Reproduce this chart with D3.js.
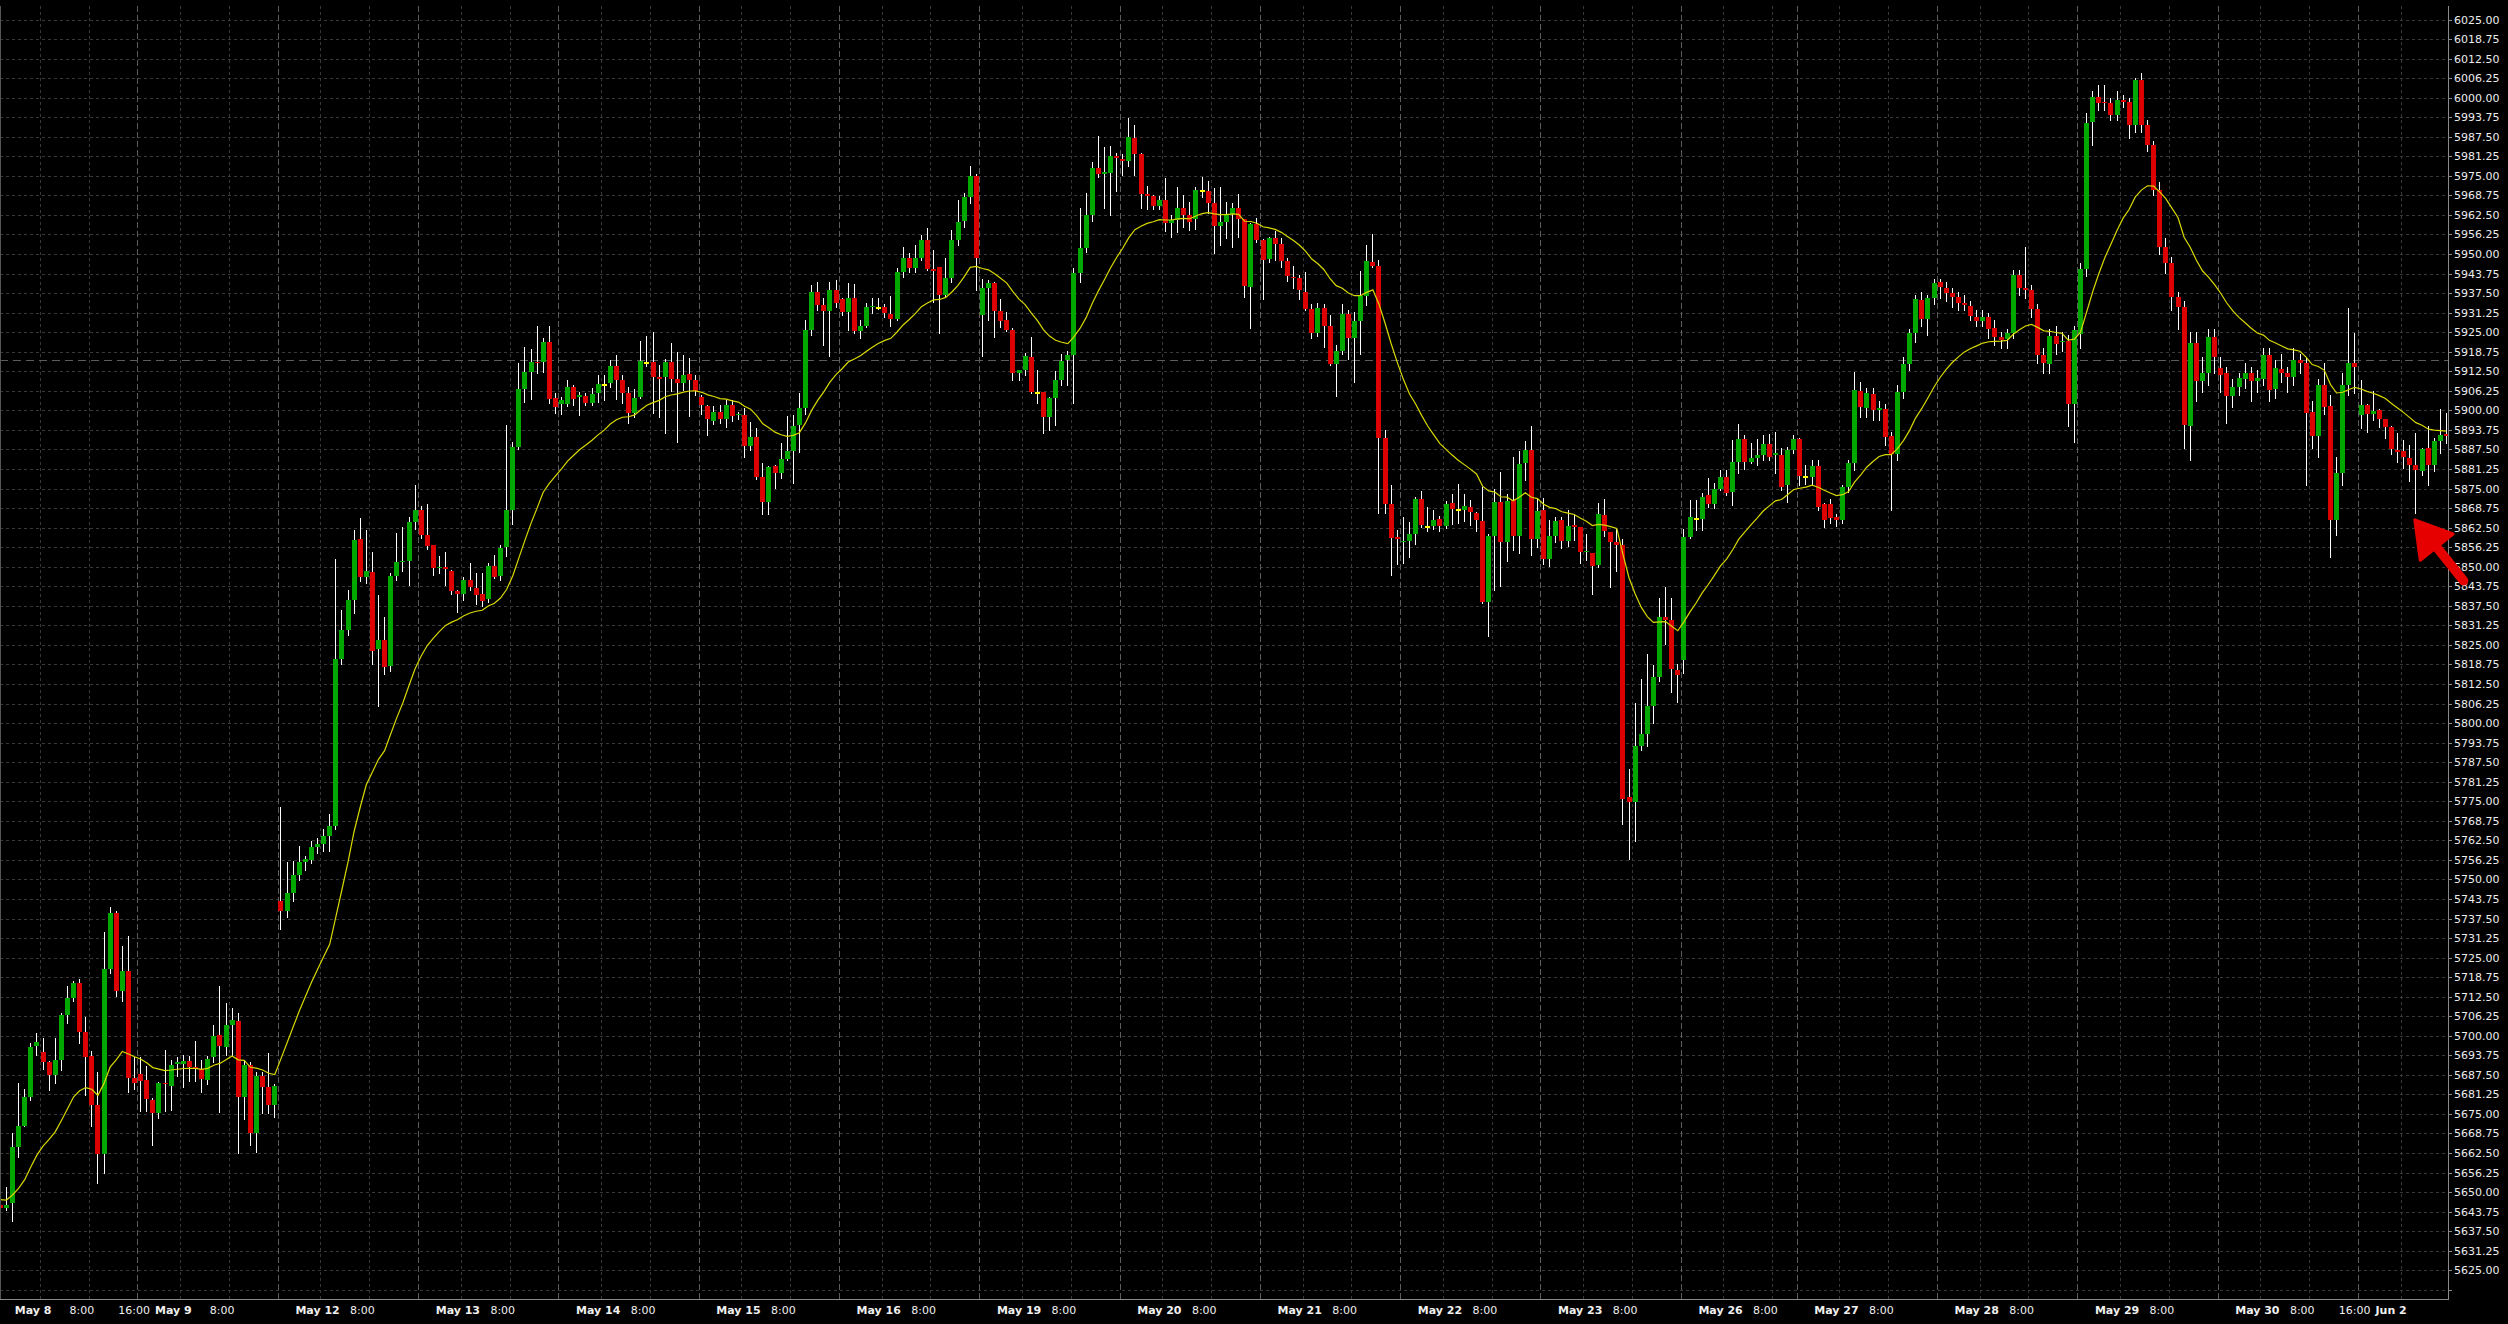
<!DOCTYPE html>
<html><head><meta charset="utf-8">
<script src="https://cdn.jsdelivr.net/npm/d3@7"></script>
<style>html,body{margin:0;padding:0;background:#000;overflow:hidden}svg{display:block}</style>
</head><body><svg id="c" width="2508" height="1324"></svg>
<script>
// ---- DATA (hourly bars, one row per trading day) ----
const dayNames = ["May 8","May 9","May 12","May 13","May 14","May 15","May 16","May 19","May 20","May 21","May 22","May 23","May 26","May 27","May 28","May 29","May 30","Jun 2"];
const dayStart = [0,23,46,69,92,115,138,161,184,207,230,253,276,295,318,341,364,387];
const timeLabelBar = [7,15,30,53,76,99,122,145,168,191,214,237,260,283,302,325,348,371,379];
const timeLabelText = ["8:00","16:00","8:00","8:00","8:00","8:00","8:00","8:00","8:00","8:00","8:00","8:00","8:00","8:00","8:00","8:00","8:00","8:00","16:00"];
const yTickFirst = 5625, yTickLast = 6025, yTickStep = 6.25;
const hLineLevels = [5916];
const maPeriod = 20, maSeed = 5647.9;

const opens = [
5646,5645,5646.4,5664.5,5671.2,5680.5,5696.8,5694.7,5691.7,5687.5,5692.3,5706.6,5712,5717,5701.3,5693.5,5677.9,5662.2,5721.2,5739.2,5714.3,5720.7,5686.6,
5687.8,5685.9,5679.5,5675.2,5685,5684,5690.9,5690.9,5691.8,5689.9,5689.3,5685.9,5693.1,5700.2,5696.5,5703.6,5704.7,5680.5,5690.7,5668.8,5687.1,5683.5,5677.9,
5743.1,5740,5745.8,5751.3,5755.7,5756.3,5760.3,5761.2,5763.9,5767,5820.4,5829.9,5839.3,5858.9,5846.7,5848.2,5823.6,5826.7,5818.1,5847.1,5851.4,5851.9,5864.4,
5868.1,5860.1,5856.9,5849.5,5850,5848.6,5842.2,5841.2,5845.8,5843.1,5841.3,5839.6,5850.2,5846.9,5856.4,5868.3,5888.4,5906.8,5912.4,5915.6,5915.6,5922,5903.8,
5902,5902,5907.4,5904.4,5904.6,5902.5,5905.5,5908.1,5908.9,5914.2,5909.7,5905.5,5899.3,5904.4,5915.3,5915.6,5910.6,5910.6,5915.5,5910,5908.6,5911.5,5909.7,
5904.2,5901.4,5896.7,5899.5,5897.4,5901.7,5898.5,5898.5,5888.7,5891.5,5878.8,5870.8,5882.2,5879.9,5884.4,5887,5895.3,5900.9,5925.7,5938,5933.7,5931.9,5938.5,
5935.5,5931.5,5936,5925.5,5927,5932.9,5932.8,5933,5930.7,5929.3,5944.3,5948.7,5945.6,5948.7,5954.5,5945.2,5945.7,5936.9,5942.3,5954.5,5960.7,5968.1,5975,
5930.5,5939.1,5940.7,5931.9,5928.9,5925.7,5912.1,5912.9,5917.1,5905.6,5905.9,5898,5904.1,5909.7,5916,5917.6,5943.8,5951.8,5962.5,5977.4,5975.5,5976,5981.4,
5980.3,5979.8,5987.1,5982,5969.2,5968.6,5965.2,5967.3,5960,5960.9,5964.8,5962.5,5961.1,5970.3,5970.3,5966.4,5959,5960.2,5962.8,5964.8,5961.1,5939.6,5959.6,
5954.5,5948.5,5955.1,5953.2,5947.8,5942.7,5942.2,5937.7,5932.3,5924.8,5932.6,5927,5914.7,5918.9,5930.9,5923.2,5928.6,5936.7,5947.4,5946.3,5891.2,5869.9,5859.5,
5857.8,5858.3,5860.6,5871.8,5862.7,5862.9,5865.3,5862.9,5870.4,5868.3,5868.3,5869,5867.3,5864.6,5838.8,5859.7,5870.7,5857.9,5871.4,5859.9,5883.1,5887.3,5858.9,
5868,5852.5,5859.7,5865,5858.3,5863.3,5862.6,5854.6,5854.3,5850.5,5866.4,5861,5857.9,5857,5776.2,5774.9,5792.6,5796.4,5805.4,5814.8,5833.9,5833,5817.1,
5820.2,5859.6,5865.4,5865.4,5872.8,5869.9,5875,5878.8,5873.9,5883.6,5891,5883.6,5884.7,5885.6,5889.4,5885.7,5885.7,5876.1,5887.3,
5890.7,5878.8,5878.8,5882.2,5869.9,5869.9,5865.8,5865,5875.4,5883.3,5906.2,5900.7,5905.2,5900,5900.3,5891.8,5885.9,5906,5914.8,5924.6,5935.3,5929.1,5935.8,
5941.2,5939.1,5937.6,5936.2,5934.2,5933.4,5930,5928.7,5930,5926.2,5923.4,5922.7,5924.6,5943.3,5939.1,5938.5,5932.3,5917.7,5914.8,5923.8,5921.9,5922.2,5901.9,
5924.3,5945.2,5992.1,6000.1,5998.6,5998.2,5994.5,5999.3,5998.7,5991.3,6005.7,5991.3,5984.9,5970.5,5952.1,5947.1,5936.1,5933.2,5895.1,5921.5,5909.5,5911.8,5923.6,
5913.4,5911.8,5904.6,5907.6,5909.9,5911.8,5909.5,5910,5917.7,5906.7,5913.1,5911.8,5910.8,5916.1,5915,5899.6,5891.8,5908.1,5901.4,5864.9,5880.1,5908.1,5915,
5898.5,5901.7,5899,5900.1,5897.1,5894.8,5887.3,5887,5884.9,5882.5,5880.7,5887.9,5882.5,5890.1,5892.4
];
const highs = [
5647.5,5651.7,5668.8,5684.8,5682.9,5697.6,5700.8,5699.4,5691.9,5699.4,5707.2,5716,5717.5,5718,5706.1,5695,5688.5,5733.3,5741.1,5739.9,5728.7,5731.9,5693.3,
5693.3,5690.4,5680,5685.3,5695.5,5692.3,5693.3,5693.8,5693.6,5698.3,5692.3,5693.6,5703.4,5715.9,5710.4,5709,5707.4,5692.3,5691.7,5688.5,5688.5,5694.4,5684.6,
5773.3,5755.7,5756,5760.7,5757.6,5762.3,5763.1,5766.2,5770.9,5852.6,5836.1,5842.4,5861.7,5865.5,5861.7,5854.7,5840.9,5833.8,5847.9,5860.8,5862.8,5866,5876.2,
5869.4,5870,5857,5853.4,5854.6,5848.8,5842.4,5846.8,5851.1,5847.9,5848.1,5851.1,5853.8,5856.9,5895.3,5890,5915,5920.4,5919.5,5927,5923,5927.1,5905.7,
5904.4,5909.7,5908.1,5906,5905.5,5907.1,5911.3,5911.3,5916.1,5917.7,5911.3,5907.4,5906.7,5922.3,5923.8,5925.2,5914.5,5916.3,5921.4,5918.8,5917.7,5916.6,5911.3,
5904.9,5901.6,5901.4,5901.7,5903.3,5903.3,5899.6,5900.7,5896.4,5894.3,5883.3,5882.2,5882.4,5889.5,5898.2,5898.5,5905.5,5928.9,5940,5941,5936,5941,5941.7,
5935.8,5940.6,5940.4,5928.9,5934.2,5935.8,5935.8,5934,5936.6,5945.4,5952.4,5950.2,5952.9,5956.1,5958.2,5951.3,5946,5948.6,5957.7,5967.3,5969.6,5978,5975.6,
5941.9,5941.7,5941.2,5935.5,5931.5,5926.5,5913,5918.5,5923.4,5912.9,5906,5904.3,5912.7,5918,5919.1,5945.4,5964.6,5969.4,5979.5,5987.8,5984.3,5984.5,5982.4,
5982,5993.4,5991.3,5982.2,5971.8,5968.8,5968.6,5974.2,5962.5,5971.5,5968.9,5966.7,5971.3,5974.7,5973.5,5971,5971.3,5966.7,5966.2,5969.2,5961.3,5959.8,5961.4,
5954.7,5955.3,5957.5,5955.1,5948.8,5946.1,5943.4,5944.1,5934,5934.2,5934,5930.6,5920.8,5934,5932,5931.3,5944.7,5952.8,5956.4,5948.1,5893.6,5876.1,5861.8,
5866,5864.2,5872.3,5874.1,5869.1,5868.3,5866.3,5871,5873.1,5876.5,5873.1,5871.4,5867.5,5875.4,5860.6,5874.7,5880.4,5873.1,5885.2,5887.1,5890.2,5894.9,5872,
5872,5865,5866,5866,5868,5866.7,5862.8,5860.6,5854.5,5870.4,5871.8,5861.2,5862,5858.9,5785.2,5806.4,5814.2,5822.2,5818.5,5840,5843.5,5840,5818.9,
5862,5871.3,5871.3,5873.5,5878.3,5876.7,5880.9,5880.9,5890.5,5895.6,5892.1,5889.5,5890.7,5892.1,5892.5,5893.2,5887.9,5888.4,5892.1,
5891.1,5882.5,5884.1,5884,5870.5,5871.6,5867,5876,5884,5912.4,5909,5907,5907,5903,5902,5893,5908,5917,5926,5937,5938,5937,5942,
5942,5941,5939,5938,5937,5935,5932,5932,5931,5929,5925,5926,5945,5945,5952.4,5940,5934,5920,5926,5927,5925,5924,5927,
5947,5995,6002,6004,6004,6000,6002,6001,6000,6006.3,6008,5993,5986,5973,5955,5949,5938,5935,5925,5925,5917,5926,5926,
5917,5914,5910,5912,5915,5914,5913,5920,5920,5916,5918,5914,5920,5918,5917,5903,5910,5915,5905,5885,5912,5932.6,5924.8,
5909.7,5902,5906.2,5900.3,5897.3,5895,5892.9,5890.5,5888.9,5892.7,5887.9,5895,5891.1,5900.3,5899.1
];
const lows = [
5644,5644.3,5640.9,5661.3,5671,5679.5,5693.9,5689.4,5682.5,5685,5689,5704.2,5711,5697.8,5681,5671,5652.8,5656.2,5720,5712.7,5711.1,5682.1,5683,
5676,5676,5665.1,5673.6,5676,5676.2,5687,5683.7,5685.6,5685.6,5682.1,5684.6,5691.7,5675.7,5693.8,5694,5662.6,5673.3,5665.1,5662.9,5675.4,5675.4,5673.9,
5734,5738,5743.1,5749.7,5752.9,5755.2,5758.4,5759.2,5759.2,5766.2,5818.8,5828.3,5835.3,5845.5,5844.8,5818.8,5805.5,5815.7,5816.5,5845.6,5848.7,5844,5862,
5859.1,5855.6,5847.4,5848.1,5844.2,5841.3,5835.6,5839.4,5842.6,5838.1,5837.4,5838.8,5846.3,5845.8,5853.4,5863.6,5887.5,5902.8,5903.5,5912.1,5912.4,5902.3,5899.3,
5899,5901.4,5901.7,5898.5,5901.7,5901.7,5902.8,5903.3,5907.6,5903.5,5902.5,5896.1,5897.8,5903.9,5914.2,5899.3,5898,5892.7,5906.3,5890,5906.5,5898.2,5904.9,
5899,5892.1,5895.6,5895.9,5894.6,5896.7,5897.1,5885.2,5887.3,5877.9,5866.9,5867,5875.1,5878.3,5884.1,5876.9,5886.8,5899,5924,5932,5920.9,5917.4,5933.2,
5930.5,5925.7,5924.6,5923,5926.8,5931,5932.3,5930,5927,5928.9,5942.8,5944.4,5944.4,5948.1,5944.9,5934.8,5924.6,5936.4,5941.2,5952.9,5958.8,5966.2,5938.5,
5917.4,5928.9,5923.4,5926.8,5925.5,5909.7,5909.7,5911.3,5905.5,5902.5,5892.7,5893.7,5895.3,5908.1,5908.1,5902.5,5941.2,5950.8,5960.7,5974.7,5964.6,5962.5,5970.3,
5975.3,5978.2,5975.3,5964.6,5964.5,5964.3,5964.3,5957.5,5955.3,5957.2,5958.8,5957.7,5957.9,5968.3,5963,5950.4,5952.9,5955,5952.4,5955.3,5936.4,5926.2,5954,
5935.6,5947.4,5948.1,5946,5941.4,5939.1,5935.6,5932.1,5923.2,5923.9,5920.2,5914.4,5904.6,5918.1,5916.5,5909.1,5918.1,5933.7,5946,5867.3,5867.3,5847.5,5850.8,
5851.2,5853.2,5857.2,5862.6,5861.3,5862,5861.5,5862.3,5863.7,5864,5864.6,5863.3,5861.3,5838.5,5828,5842.7,5843.8,5851.8,5855.2,5854.5,5877.7,5853.9,5856.2,
5850.8,5850.2,5857.9,5855.9,5856.6,5858.6,5851.2,5852.1,5841.4,5849.8,5859.9,5843.4,5848.5,5767.7,5756.6,5762.4,5791.3,5792.6,5800,5813.5,5825.2,5809.9,5806.8,
5816,5859.1,5861.7,5861.7,5869.2,5868.7,5874.5,5872.9,5869.7,5879.9,5881.4,5883.1,5882.5,5884.1,5884.1,5879.9,5874.5,5870.8,5886.3,
5876.1,5876.5,5876,5868.1,5862.6,5864.1,5863,5864,5874,5881,5898,5898,5897,5897,5889,5868.1,5884,5904,5913,5922,5927,5924,5934,
5936,5935,5933,5932,5932,5929,5927,5927,5923,5921,5920,5920,5923,5937,5936,5930,5915,5912,5912,5918,5919,5895,5890,
5920,5943,5985,5996,5996,5993,5993,5997,5987,5989,5989,5983,5969,5950,5944,5932,5926,5888,5884,5903,5906,5908,5912,
5906,5896,5901,5905,5907,5903,5906,5908,5903,5904,5909,5906,5908,5912,5876,5888,5885,5899,5853.2,5860,5876,5905,5905.4,
5894.3,5893.2,5896.9,5894.8,5891.1,5886,5883.6,5881.5,5877.5,5867.3,5879.3,5876.1,5880.7,5886.5,5889.5
];
const closes = [
5645,5646,5664.5,5671.2,5680.4,5696.5,5698,5691.7,5687.5,5692.3,5706.6,5712,5717,5701.3,5693.3,5677.9,5662.2,5721.2,5739.2,5714.3,5720.7,5686.6,5685,
5685.6,5679.7,5675.4,5684.8,5684.5,5690.7,5691.6,5691.8,5690.1,5689.4,5686.2,5692.6,5700,5696.8,5703.4,5705.1,5680.5,5690.7,5668.8,5687.1,5683.5,5677.9,5684,
5740,5745.8,5751.3,5755.7,5756.5,5760.3,5761.2,5763.9,5767,5820.4,5829.9,5839.3,5858.5,5846.8,5848.7,5823.1,5826.7,5817.8,5847.1,5851.4,5851.9,5864.4,5868.3,
5860.1,5856.6,5849.5,5850,5849.2,5842.3,5841.2,5845.8,5843.4,5841,5839.1,5850.2,5846.8,5856.1,5868.3,5888.4,5906.8,5912.4,5915.6,5915,5922,5903.6,5901,
5903.3,5907.4,5903.6,5904.8,5902.5,5905.2,5908.4,5908.1,5914.2,5909.7,5905.7,5899.3,5904.1,5915.8,5915.3,5910.6,5910.1,5915.5,5910,5908.6,5911.2,5909.7,5906.3,
5901.7,5897.1,5899.6,5897.4,5901.7,5898.2,5898.9,5888.7,5891.5,5878.8,5870.8,5882,5879.9,5884.3,5887,5895,5900.9,5925.7,5938,5933.6,5931.9,5938.5,5934.2,
5931.3,5936,5925.5,5927,5933,5933.4,5932.8,5931,5929.2,5944.3,5948.7,5945.6,5948.7,5954.5,5945.3,5944.7,5936.9,5942.3,5954.5,5960.2,5968.1,5975,5948.8,
5939.1,5940.7,5931.9,5928.7,5925.7,5912.1,5912.9,5917.4,5905.9,5905.6,5898,5904.1,5909.7,5915.7,5917.6,5943.8,5951.8,5962.4,5977.4,5975.6,5976.2,5981.4,5980.7,
5979.8,5987.5,5982,5969.2,5968.6,5965.2,5967.3,5960,5960.9,5964.8,5962.5,5960.4,5970.5,5970.3,5966.4,5959,5960.2,5962.8,5964.8,5961.1,5939.8,5959.6,5954.5,
5948.1,5955.1,5953.2,5947.8,5943.1,5942.2,5938.4,5932.3,5924.8,5932.6,5927,5914.7,5918.9,5930.9,5923.2,5928.6,5936.7,5947.8,5946.3,5891.2,5869.9,5859.3,5858.9,
5858.3,5860.6,5871.8,5863.3,5862.7,5864.9,5862.9,5870,5868.5,5868.3,5869.4,5867.6,5865,5838.8,5859.7,5870.7,5857.9,5871,5859.9,5882.8,5887.3,5858.9,5867.7,
5852.5,5859.7,5864.6,5858.3,5862.9,5862.6,5854.6,5854.9,5850.2,5866.9,5861.3,5857.9,5857,5775.8,5774.9,5792.6,5796.4,5805.4,5814.8,5833.9,5833,5817.3,5815.5,
5859.5,5865.8,5865.4,5872.2,5869.9,5875,5878.8,5873.5,5883.6,5891,5883.6,5884.7,5885.8,5889.4,5885,5886.4,5875.6,5887.3,5890.7,
5879,5878.8,5882.2,5869.2,5865.1,5865.5,5864.9,5875.6,5883.3,5906.5,5901.2,5905.5,5900.1,5900.7,5891.6,5885.9,5906,5914.8,5924.6,5935.7,5929.1,5935.8,5940.6,
5939.6,5937.6,5936.2,5934.4,5933.7,5930.2,5928.7,5930,5925.9,5923.4,5922.5,5924.6,5943.3,5939.1,5938.5,5932.3,5917.7,5915,5923.8,5921.2,5922.2,5901.9,5925.7,
5945.2,5991.8,6000.1,5998.4,5998.2,5994.5,5999.3,5998.7,5991.3,6005.7,5991.3,5984.9,5970.5,5952.4,5947.1,5936.1,5933.2,5895.3,5921.7,5909.5,5911.8,5923.6,5917.2,
5911.3,5904.7,5907.6,5910.3,5911.8,5909.5,5910.2,5917.7,5906.5,5913.4,5911.8,5910.8,5916.1,5915,5899.3,5891.8,5908.1,5901.2,5864.9,5880.1,5908.1,5915,5914,
5901.7,5899,5899.8,5897.4,5894.8,5887.5,5886.8,5885.2,5882.5,5880.9,5887.5,5882.5,5890.2,5892.1,5891.9
];
// annotation arrow (bar index, price)
const arrowTip = [395.9, 5865], arrowTail = [403.9, 5845.5];

// ---- CHART ----
const W = 2508, H = 1324;
const plotLeft = 0, plotRight = 2448, plotTop = 6, plotBottom = 1299;
const n = closes.length;
const bars = d3.range(n).map(i => ({i, o: opens[i], h: highs[i], l: lows[i], c: closes[i]}));

const x = d3.scaleLinear().domain([0, 401]).range([-0.2, 2445.9]);
const y = d3.scaleLinear().domain([yTickFirst, yTickLast]).range([1270.3, 19.5]);

const svg = d3.select("#c");
svg.append("rect").attr("width", W).attr("height", H).attr("fill", "#000");
const defs = svg.append("defs");
defs.append("clipPath").attr("id", "plot").append("rect")
  .attr("x", plotLeft).attr("y", plotTop).attr("width", plotRight - plotLeft).attr("height", plotBottom - plotTop);

const grid = svg.append("g").attr("shape-rendering", "crispEdges").attr("clip-path", "url(#plot)");
// horizontal grid
const gridLevels = d3.range(0, 66).map(k => yTickFirst - yTickStep + k * yTickStep);
grid.selectAll("line.hg").data(gridLevels).join("line")
  .attr("x1", plotLeft).attr("x2", plotRight)
  .attr("y1", d => Math.round(y(d)) + 0.5).attr("y2", d => Math.round(y(d)) + 0.5)
  .attr("stroke", "#383838").attr("stroke-dasharray", "3,3");
// vertical grid at 8:00 and 16:00 of each day
const vg = [];
dayStart.forEach((s, k) => {
  const end = k + 1 < dayStart.length ? dayStart[k + 1] : n;
  [7, 15].forEach(o => { if (s + o < end) vg.push(s + o); });
});
grid.selectAll("line.vg").data(vg).join("line")
  .attr("x1", d => Math.round(x(d) - 2.7) + 0.5).attr("x2", d => Math.round(x(d) - 2.7) + 0.5)
  .attr("y1", plotTop).attr("y2", plotBottom)
  .attr("stroke", "#383838").attr("stroke-dasharray", "3,3");
// day separators
grid.selectAll("line.sep").data(dayStart.slice(1)).join("line")
  .attr("x1", d => Math.round(x(d) - 2.7) + 0.5).attr("x2", d => Math.round(x(d) - 2.7) + 0.5)
  .attr("y1", plotTop).attr("y2", plotBottom)
  .attr("stroke", "#5c5c5c").attr("stroke-dasharray", "6,3");
// horizontal dashed level line
grid.selectAll("line.hl").data(hLineLevels).join("line")
  .attr("x1", plotLeft).attr("x2", plotRight)
  .attr("y1", d => Math.round(y(d)) + 0.5).attr("y2", d => Math.round(y(d)) + 0.5)
  .attr("stroke", "#5c5c5c").attr("stroke-dasharray", "8,5");

// candles
const cg = svg.append("g").attr("clip-path", "url(#plot)").attr("shape-rendering", "crispEdges");
const cx = d => Math.round(x(d.i));
cg.selectAll("line.wick").data(bars).join("line")
  .attr("x1", d => cx(d) + 0.5).attr("x2", d => cx(d) + 0.5)
  .attr("y1", d => Math.round(y(d.h))).attr("y2", d => Math.round(y(d.l)) + 1)
  .attr("stroke", "#ffffff").attr("stroke-width", 1);
cg.selectAll("rect.body").data(bars.filter(d => d.o !== d.c)).join("rect")
  .attr("x", d => cx(d) - 2).attr("width", 5)
  .attr("y", d => Math.round(y(Math.max(d.o, d.c))))
  .attr("height", d => Math.max(1, Math.round(y(Math.min(d.o, d.c))) - Math.round(y(Math.max(d.o, d.c)))))
  .attr("fill", d => d.c > d.o ? "#00a800" : "#dc0000");
cg.selectAll("rect.doji").data(bars.filter(d => d.o === d.c)).join("rect")
  .attr("x", d => cx(d) - 2).attr("width", 5)
  .attr("y", d => Math.round(y(d.c)) - 1).attr("height", 2)
  .attr("fill", "#ffff00");

// moving average (EMA of close, as drawn by the platform)
const alpha = 2 / (maPeriod + 1);
const ma = [];
bars.forEach((d, k) => { const prev = k === 0 ? maSeed : ma[k - 1]; ma.push(prev + alpha * (d.c - prev)); });
svg.append("path").attr("clip-path", "url(#plot)")
  .attr("d", d3.line().x((v, k) => x(k) + 0.5).y(v => y(v))(ma))
  .attr("fill", "none").attr("stroke", "#d8d800").attr("stroke-width", 1.2);

// axes frame
const ax = svg.append("g").attr("shape-rendering", "crispEdges");
ax.append("line").attr("x1", plotRight + 0.5).attr("x2", plotRight + 0.5).attr("y1", plotTop).attr("y2", plotBottom + 1).attr("stroke", "#8a8a8a");
ax.append("line").attr("x1", 0).attr("x2", plotRight + 1).attr("y1", plotBottom + 0.5).attr("y2", plotBottom + 0.5).attr("stroke", "#8a8a8a");
ax.append("line").attr("x1", 0.5).attr("x2", 0.5).attr("y1", plotTop).attr("y2", plotBottom).attr("stroke", "#555");

// y ticks & labels
const yTicks = d3.range(0, Math.round((yTickLast - yTickFirst) / yTickStep) + 1).map(k => yTickFirst + k * yTickStep);
ax.selectAll("line.yt").data(gridLevels).join("line")
  .attr("x1", plotRight).attr("x2", plotRight + 4)
  .attr("y1", d => Math.round(y(d)) + 0.5).attr("y2", d => Math.round(y(d)) + 0.5)
  .attr("stroke", "#8a8a8a");
svg.append("g").selectAll("text").data(yTicks).join("text")
  .attr("x", plotRight + 6).attr("y", d => y(d) + 4)
  .attr("font-family", "DejaVu Sans").attr("font-size", 11).attr("fill", "#ececec")
  .text(d => d.toFixed(2));

// x labels
const xl = svg.append("g").attr("font-family", "DejaVu Sans").attr("font-size", 11).attr("fill", "#f0f0f0");
xl.selectAll("text.day").data(dayNames).join("text")
  .attr("x", (d, k) => x(dayStart[k]) + 15).attr("y", 1314)
  .attr("font-weight", "bold").text(d => d);
xl.selectAll("text.tm").data(timeLabelText).join("text")
  .attr("x", (d, k) => x(timeLabelBar[k]) + 27).attr("y", 1314)
  .text(d => d);

// annotation arrow
const tip = [x(arrowTip[0]), y(arrowTip[1])], tail = [x(arrowTail[0]), y(arrowTail[1])];
const dx = tip[0] - tail[0], dy = tip[1] - tail[1], len = Math.hypot(dx, dy);
const ux = dx / len, uy = dy / len, px = -uy, py = ux;
const headLen = 35, headHalf = 21;
const base = [tip[0] - ux * headLen, tip[1] - uy * headLen];
const ag = svg.append("g").attr("fill", "#e60000").attr("stroke", "#e60000");
ag.append("line").attr("x1", tail[0]).attr("y1", tail[1]).attr("x2", base[0] + ux * 4).attr("y2", base[1] + uy * 4)
  .attr("stroke-width", 9.5).attr("stroke-linecap", "round");
ag.append("path").attr("stroke-width", 3).attr("stroke-linejoin", "round")
  .attr("d", `M${tip[0]},${tip[1]}L${base[0] + px * headHalf},${base[1] + py * headHalf}L${base[0] - px * headHalf},${base[1] - py * headHalf}Z`);
</script>
</body></html>
